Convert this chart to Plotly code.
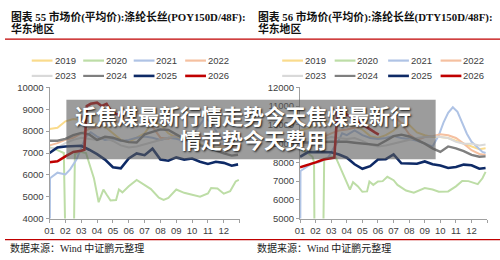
import plotly.graph_objects as go

W, H = 500, 260

# ---------------- data ----------------
YEARS = ["2019", "2020", "2021", "2022", "2023", "2024", "2025", "2026"]
COLORS = ["#FADB8C", "#BDDDA6", "#AFC3E5", "#F5C0A0", "#D9D9D9", "#7F7F7F", "#0E2A66", "#C00000"]
WIDTHS = [2, 2, 2, 2, 2, 2.4, 2.6, 2.6]
MONTH_LABELS = ["01", "02", "03", "04", "05", "06", "07", "08", "09", "10", "11", "12"]

GRID = [0, 0.5, 1, 1.5, 2, 2.5, 3, 3.5, 4, 4.5, 5, 5.5, 6, 6.5, 7, 7.5, 8, 8.5,
        9, 9.5, 10, 10.5, 11, 11.5, 11.9]

# Left chart: POY150D/48F
POY_2019 = [8100, 8150, 8450, 8550, 8500, 8450, 8300, 8200, 7900, 7600, 7500, 7700, 7900,
            8400, 8300, 7900, 7700, 7600, 7550, 7400, 7250, 7200, 7300, 7350, 7350]
POY_2020_X = [0, 0.3, 0.6, 0.9, 1.05, 1.5, 1.6, 2.0, 2.3, 2.6, 2.8, 3.1, 3.4, 3.6, 3.85, 4.2,
              4.38, 4.6, 5.0, 5.5, 6.0, 6.4, 6.9, 7.2, 7.5, 8.0, 8.5, 9.0, 9.5, 10.0, 10.2,
              10.6, 11.0, 11.4, 11.75, 11.95]
POY_2020 = [7250, 7200, 7100, 7000, 1000, 1000, 6950, 7050, 7000, 6300, 5850, 4750, 5330, 5100,
            4830, 4850, 5330, 5200, 5480, 5770, 5550, 5350, 4960, 4860, 4950, 5330, 5180, 5100,
            5000, 5150, 5400, 5380, 5140, 5250, 5700, 5770]
POY_2021_X = [0, 0.03, 0.5, 1.0, 1.3, 1.7, 2.0, 2.3, 2.6, 3.0, 3.5, 4.0, 4.5, 5.0, 5.5, 6.0,
              6.5, 7.0, 7.5, 8.0, 8.5, 9.0, 9.5, 9.8, 10.2, 10.6, 11.0, 11.5, 11.9]
POY_2021 = [0, 5850, 6100, 6020, 6250, 6700, 7230, 7750, 7950, 7750, 7600, 7650, 7550, 7600,
            7700, 7750, 7700, 7600, 7700, 7650, 7550, 7800, 8300, 8600, 8400, 7900, 7600, 7450, 7400]
POY_2022 = [7350, 7450, 7600, 7700, 7900, 8100, 8150, 8300, 8400, 8450, 8650, 8800, 8700,
            8200, 7700, 7650, 7800, 7750, 7850, 7800, 7550, 7400, 7300, 7250, 7300]
POY_2023 = [7200, 7250, 7450, 7600, 7700, 7650, 7600, 7700, 7550, 7350, 7250, 7300, 7400,
            7500, 7600, 7700, 7750, 7800, 7700, 7600, 7450, 7400, 7450, 7400, 7450]
POY_2024 = [7560, 7560, 7650, 7820, 7920, 7850, 7600, 7740, 7700, 7580, 7500, 7480, 7850,
            7950, 8080, 8050, 7850, 7650, 7500, 7350, 7250, 7100, 6980, 6880, 6920]
POY_2025 = [7000, 7250, 7300, 7300, 7330, 7150, 6950, 6700, 6350, 6300, 6750, 6980, 6900,
            7200, 6700, 6650, 6800, 6700, 6750, 6600, 6500, 6600, 6550, 6420, 6480]
POY_2026_X = [0, 0.5, 1.0, 1.5, 2.0, 2.2, 2.35, 2.6, 3.0, 3.3, 3.6, 3.9, 4.3, 4.7]
POY_2026 = [6580, 6620, 6850, 7050, 7100, 7150, 9150, 9250, 9300, 9150, 9250, 8900, 8750, 8650]

# Right chart: DTY150D/48F
DTY_2019 = [9700, 9800, 10000, 10150, 10200, 10100, 10000, 9950, 9750, 9400, 9300, 9450, 9700,
            10100, 10000, 9600, 9450, 9350, 9350, 9300, 9150, 9000, 8850, 8700, 8750]
DTY_2020_X = [0, 0.4, 0.8, 0.9, 0.95, 1.45, 1.55, 2.0, 2.3, 2.6, 2.85, 3.2, 3.4, 3.7, 4.0, 4.3,
              4.45, 4.7, 5.0, 5.3, 5.6, 6.0, 6.25, 6.8, 7.3, 7.6, 8.0, 8.5, 8.9, 9.5, 10.0,
              10.4, 10.8, 11.4, 11.7, 11.9]
DTY_2020 = [8700, 8550, 8300, 8000, 1000, 1000, 8200, 8300, 8250, 7700, 7150, 6550, 6940, 6730,
            6430, 6450, 6980, 6800, 6980, 7000, 7230, 7050, 6800, 6500, 6380, 6500, 6630, 6550,
            6430, 6450, 6720, 7010, 7000, 6840, 7150, 7490]
DTY_2021_X = [0, 0.03, 0.5, 0.8, 1.2, 1.8, 2.1, 2.5, 2.7, 3.0, 3.5, 4.0, 4.5, 5.0, 5.5, 6.0,
              6.5, 7.0, 7.5, 8.0, 8.5, 8.9, 9.2, 9.5, 9.8, 10.1, 10.4, 10.7, 11.0, 11.3, 11.7, 11.9]
DTY_2021 = [0, 7540, 7800, 7950, 8000, 8250, 8680, 9200, 9550, 9450, 9700, 9450, 9300, 9250,
            9300, 9400, 9300, 9250, 9150, 9000, 8850, 9440, 10120, 10640, 10940, 10700, 10120,
            9530, 9100, 8850, 8560, 8500]
DTY_2022 = [8900, 9050, 9200, 9350, 9550, 9700, 9750, 9850, 9900, 10000, 10200, 10400, 10500,
            10100, 9500, 9200, 9350, 9400, 9500, 9450, 9300, 9000, 8650, 8450, 8400]
DTY_2023 = [8900, 8950, 9100, 9250, 9350, 9300, 9250, 9300, 9150, 8950, 8850, 8900, 9000,
            9100, 9200, 9300, 9350, 9400, 9350, 9300, 9100, 9000, 9000, 8900, 8950]
DTY_2024 = [9050, 9070, 9080, 9100, 9100, 9100, 9100, 9050, 9020, 8950, 8920, 9150, 9400,
            9480, 9380, 9200, 9000, 8750, 8560, 8850, 8750, 8600, 8400, 8300, 8320]
DTY_2025 = [8300, 8540, 8550, 8550, 8540, 8420, 8250, 7900, 7660, 7800, 8150, 8170, 8420,
            7950, 7920, 7930, 8050, 7900, 7830, 7700, 7750, 7880, 7850, 7660, 7700]
DTY_2026_X = [0, 0.5, 1.0, 1.5, 2.0, 2.2, 2.4, 2.8, 3.4, 3.8, 4.3, 4.8, 5.05]
DTY_2026 = [7740, 7850, 8000, 8150, 8200, 8250, 10800, 10650, 10350, 10120, 9870, 9600, 9480]

LEFT_SERIES = [(GRID, POY_2019), (POY_2020_X, POY_2020), (POY_2021_X, POY_2021), (GRID, POY_2022),
               (GRID, POY_2023), (GRID, POY_2024), (GRID, POY_2025), (POY_2026_X, POY_2026)]
RIGHT_SERIES = [(GRID, DTY_2019), (DTY_2020_X, DTY_2020), (DTY_2021_X, DTY_2021), (GRID, DTY_2022),
                (GRID, DTY_2023), (GRID, DTY_2024), (GRID, DTY_2025), (DTY_2026_X, DTY_2026)]

TITLE_L1 = "图表 55 市场价(平均价):涤纶长丝(POY150D/48F):"
TITLE_R1 = "图表 56 市场价(平均价):涤纶长丝(DTY150D/48F):"
TITLE_2 = "华东地区"
SOURCE = "数据来源：Wind 中证鹏元整理"
OVERLAY_1 = "近焦煤最新行情走势今天焦煤最新行"
OVERLAY_2 = "情走势今天费用"


def px(x):
    return x / W


def py(y):
    return 1 - y / H


fig = go.Figure()
for i, (xs, ys) in enumerate(LEFT_SERIES):
    fig.add_trace(go.Scatter(x=xs, y=ys, mode="lines", name=YEARS[i], showlegend=False,
                             line=dict(color=COLORS[i], width=WIDTHS[i]),
                             xaxis="x", yaxis="y"))
for i, (xs, ys) in enumerate(RIGHT_SERIES):
    fig.add_trace(go.Scatter(x=xs, y=ys, mode="lines", name=YEARS[i], showlegend=False,
                             line=dict(color=COLORS[i], width=WIDTHS[i]),
                             xaxis="x2", yaxis="y2"))

tickfont = dict(family="Liberation Sans, Arial", size=9.5, color="#404040")
axis_common = dict(showline=True, linecolor="#A0A0A0", linewidth=1, ticks="outside",
                   ticklen=3, tickcolor="#A0A0A0", showgrid=False, zeroline=False,
                   tickfont=tickfont, fixedrange=True)
xticks = dict(tickmode="array", tickvals=list(range(13)), ticktext=MONTH_LABELS + [""],
              range=[0, 12])

fig.update_layout(
    width=W, height=H, margin=dict(l=0, r=0, t=0, b=0),
    paper_bgcolor="white", plot_bgcolor="white", showlegend=False,
    xaxis=dict(domain=[px(45), px(237)], anchor="y", **xticks, **axis_common),
    yaxis=dict(domain=[py(222), py(85)], anchor="x", range=[4000, 10000], dtick=1000,
               tickformat="d", **axis_common),
    xaxis2=dict(domain=[px(298), px(487)], anchor="y2", **xticks, **axis_common),
    yaxis2=dict(domain=[py(222), py(85)], anchor="x2", range=[5000, 12000], dtick=1000,
                tickformat="d", **axis_common),
)

shapes = []
annotations = []
title_font = dict(family="Liberation Serif, Noto Sans CJK SC", size=10.8, color="#111111",
                  weight="bold")
for x0, t1 in [(4, TITLE_L1), (254, TITLE_R1)]:
    annotations.append(dict(x=px(x0), y=py(11), xref="paper", yref="paper", text=t1,
                            showarrow=False, xanchor="left", yanchor="middle", font=title_font))
    annotations.append(dict(x=px(x0), y=py(24), xref="paper", yref="paper", text=TITLE_2,
                            showarrow=False, xanchor="left", yanchor="middle", font=title_font))
    annotations.append(dict(x=px(x0 - 1), y=py(253), xref="paper", yref="paper", text=SOURCE,
                            showarrow=False, xanchor="left", yanchor="middle",
                            font=dict(family="Liberation Serif, Noto Sans CJK SC", size=10,
                                      color="#222222")))

# red rules
for yy in (34.5, 244):
    shapes.append(dict(type="line", xref="paper", yref="paper", x0=0, x1=1,
                       y0=py(yy), y1=py(yy), line=dict(color="#C00000", width=1.2)))

# legends (drawn manually: 4 columns x 2 rows per panel)
legend_cols = {"left": [27, 79, 130, 182], "right": [280, 333, 387, 440]}
legend_rows = [57, 73]
for side in ("left", "right"):
    for i, year in enumerate(YEARS):
        cx = legend_cols[side][i % 4]
        cy = legend_rows[i // 4]
        shapes.append(dict(type="line", xref="paper", yref="paper", x0=px(cx), x1=px(cx + 21),
                           y0=py(cy), y1=py(cy),
                           line=dict(color=COLORS[i], width=2.2 if i < 6 else 2.6)))
        annotations.append(dict(x=px(cx + 21), y=py(cy), xref="paper", yref="paper", text=year,
                                showarrow=False, xanchor="left", yanchor="middle",
                                font=dict(family="Liberation Sans, Arial", size=9.5,
                                          color="#404040")))

# overlay band with headline
shapes.append(dict(type="rect", xref="paper", yref="paper", x0=px(62), x1=px(435),
                   y0=py(160), y1=py(98), fillcolor="rgba(90,90,90,0.6)",
                   line=dict(width=0), layer="above"))
ov_font = dict(family="Noto Sans CJK SC", size=21, color="white", weight="bold",
               shadow="1px 1px 2px rgba(0,0,0,0.85)")
annotations.append(dict(x=px(240), y=py(113.5), xref="paper", yref="paper", text=OVERLAY_1,
                        showarrow=False, xanchor="center", yanchor="middle", font=ov_font))
annotations.append(dict(x=px(251), y=py(139), xref="paper", yref="paper", text=OVERLAY_2,
                        showarrow=False, xanchor="center", yanchor="middle", font=ov_font))

fig.update_layout(shapes=shapes, annotations=annotations)
fig.write_html("out.html")
